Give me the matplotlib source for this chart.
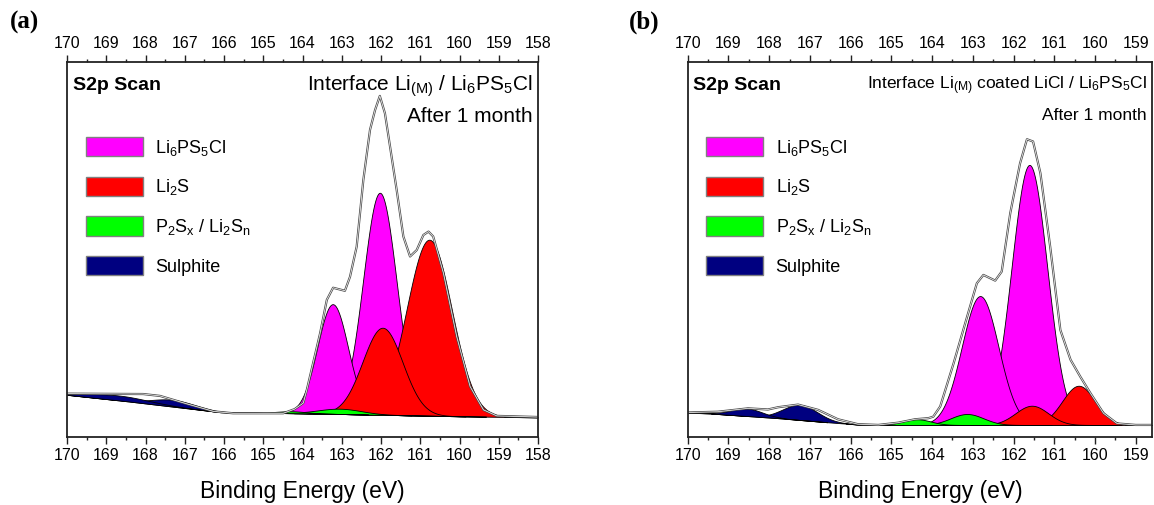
"""
S2p XPS fits of the two interfaces after 1 month, side by side.
Saves out.png
"""

import matplotlib
matplotlib.use("Agg")
import matplotlib.pyplot as plt
from matplotlib.patches import Patch
from matplotlib.ticker import MultipleLocator
import numpy as np

plt.rcParams.update({
    "font.family": ["Liberation Sans", "DejaVu Sans"],
    "mathtext.fontset": "custom",
    "mathtext.rm": "Liberation Sans",
    "mathtext.it": "Liberation Sans:italic",
    "mathtext.bf": "Liberation Sans:bold",
    "mathtext.default": "regular",
})

# ---------------- panel (a): Li(M) / Li6PS5Cl ----------------
A_ENV_E = [170.0, 168.06, 167.63, 166.95, 166.27, 165.77, 165.0, 164.49, 164.2, 163.98,
           163.89, 163.55, 163.38, 163.22, 162.92, 162.79, 162.62, 162.45, 162.28, 162.15,
           162.03, 161.90, 161.77, 161.60, 161.43, 161.26, 161.09, 160.92, 160.79, 160.67,
           160.41, 160.07, 159.73, 159.39, 159.05, 158.0]
A_ENV_I = [12.0, 11.9, 11.4, 9.3, 7.3, 6.8, 6.8, 6.8, 7.9, 9.5,
           13.0, 28.1, 36.9, 40.1, 39.3, 43.0, 51.0, 68.7, 82.0, 87.3,
           91.0, 86.4, 77.6, 66.0, 53.7, 48.4, 50.1, 54.1, 55.0, 53.7,
           44.0, 27.1, 13.9, 7.7, 6.1, 5.8]
A_BG_E = [170.0, 168.4, 166.1, 165.0, 164.0, 163.0, 162.0, 161.0, 160.0, 158.0]
A_BG_I = [11.7, 9.9, 7.1, 6.9, 6.8, 6.6, 6.4, 6.2, 6.0, 5.7]

# component fits: centre (eV), height above background, FWHM (eV)
A_LI6_CEN, A_LI6_H, A_LI6_FW = [162.03, 163.23], [58.9, 29.1], [1.0, 0.92]
A_LI2S_CEN, A_LI2S_H, A_LI2S_FW = [160.77, 161.96], [46.7, 23.1], [1.35, 1.2]
A_PSX_CEN, A_PSX_H, A_PSX_FW = [163.05, 164.3], [1.4, 0.5], [1.3, 0.9]
A_SULF_CEN, A_SULF_H, A_SULF_FW = [167.3, 168.7], [1.8, 1.3], [1.3, 1.8]

# ---------------- panel (b): Li(M) coated LiCl / Li6PS5Cl ----------------
B_ENV_E = [170.0, 169.26, 168.52, 168.03, 167.78, 167.29, 166.80, 166.31, 165.82, 165.32,
           164.83, 164.42, 164.09, 163.97, 163.80, 163.47, 163.14, 162.90, 162.74, 162.45,
           162.29, 162.08, 161.84, 161.67, 161.52, 161.34, 161.10, 160.85, 160.60, 160.36,
           160.11, 159.79, 159.46, 159.0, 158.6]
B_ENV_I = [7.0, 7.2, 8.1, 7.8, 8.4, 9.1, 7.7, 5.2, 3.9, 3.7,
           4.3, 5.2, 5.5, 5.9, 8.6, 20.1, 32.4, 41.3, 43.5, 42.0,
           44.4, 59.9, 73.1, 79.5, 78.9, 70.5, 51.0, 28.9, 21.0, 16.5,
           12.1, 6.8, 4.1, 3.7, 3.7]
B_BG_E = [170.0, 169.26, 167.78, 166.55, 165.8, 165.0, 158.6]
B_BG_I = [7.0, 6.6, 5.5, 4.4, 3.8, 3.7, 3.7]

B_LI6_CEN, B_LI6_H, B_LI6_FW = [161.61, 162.82], [69.0, 34.2], [1.03, 1.06]
B_LI2S_CEN, B_LI2S_H, B_LI2S_FW = [160.40, 161.55], [10.4, 5.1], [0.95, 0.95]
B_PSX_CEN, B_PSX_H, B_PSX_FW = [163.14, 164.37], [2.9, 1.5], [0.95, 0.8]
B_SULF_CEN, B_SULF_H, B_SULF_FW = [167.24, 168.55], [4.0, 2.0], [1.0, 0.9]

LABELS = [r"Li$_6$PS$_5$Cl", r"Li$_2$S", r"P$_2$S$_x$ / Li$_2$S$_n$", "Sulphite"]
COLORS = ["#ff00ff", "#ff0000", "#00ff00", "#000080"]


def gauss(e, cen, h, fw):
    return h * np.exp(-4 * np.log(2) * (e - cen) ** 2 / fw ** 2)


def draw_panel(ax, e_right, env_e, env_i, bg_e, bg_i, comps, title, tsize):
    grid = np.linspace(170, e_right, 900)
    bg = np.interp(grid, bg_e[::-1], bg_i[::-1])

    for (cens, hs, fws), col in zip(comps, COLORS):
        for c, h, fw in zip(cens, hs, fws):
            m = np.abs(grid - c) < 2.2 * fw
            ax.fill_between(grid[m], bg[m], bg[m] + gauss(grid[m], c, h, fw),
                            facecolor=col, edgecolor="black", linewidth=0.6)

    ax.plot(env_e, env_i, color="#4a4a4a", linewidth=1.6, solid_joinstyle="round")
    ax.plot(env_e, env_i, color="white", linewidth=0.5, solid_joinstyle="round")

    ax.set_xlim(170, e_right)
    ax.set_ylim(0.5, 100)
    ax.xaxis.set_major_locator(MultipleLocator(1))
    ax.xaxis.set_minor_locator(MultipleLocator(0.5))
    ax.tick_params(axis="x", which="both", direction="out", top=True, bottom=True,
                   labeltop=True, labelbottom=True, labelsize=11.5, pad=3, color="#222")
    ax.tick_params(axis="x", which="major", length=5, width=1.0)
    ax.tick_params(axis="x", which="minor", length=2.5, width=1.0)
    ax.tick_params(axis="y", left=False, right=False, labelleft=False)
    for sp in ax.spines.values():
        sp.set_linewidth(1.3)
        sp.set_color("#222")
    ax.set_xlabel("Binding Energy (eV)", fontsize=16.5, labelpad=12)

    ax.text(0.012, 0.936, "S2p Scan", transform=ax.transAxes, fontsize=14,
            fontweight="bold", ha="left", va="center")
    ax.text(0.988, 0.936, title, transform=ax.transAxes, fontsize=tsize,
            ha="right", va="center")
    ax.text(0.988, 0.856, "After 1 month", transform=ax.transAxes, fontsize=tsize,
            ha="right", va="center")

    handles = [Patch(facecolor=c, edgecolor="#808080", linewidth=1.0) for c in COLORS]
    ax.legend(handles, LABELS, loc="upper left", bbox_to_anchor=(0.04, 0.80),
              frameon=False, fontsize=13, handlelength=3.16, handleheight=1.27,
              handletextpad=0.68, labelspacing=1.05, borderpad=0, borderaxespad=0)


def main():
    fig = plt.figure(figsize=(11.54, 5.05), dpi=100)
    ax_a = fig.add_axes([67 / 1154, 68 / 505, 471 / 1154, 375 / 505])
    ax_b = fig.add_axes([687.7 / 1154, 68 / 505, 464.3 / 1154, 375 / 505])

    draw_panel(ax_a, 158.0, A_ENV_E, A_ENV_I, A_BG_E, A_BG_I,
               [(A_LI6_CEN, A_LI6_H, A_LI6_FW), (A_LI2S_CEN, A_LI2S_H, A_LI2S_FW),
                (A_PSX_CEN, A_PSX_H, A_PSX_FW), (A_SULF_CEN, A_SULF_H, A_SULF_FW)],
               r"Interface Li$_{(M)}$ / Li$_6$PS$_5$Cl", 15)
    draw_panel(ax_b, 158.6, B_ENV_E, B_ENV_I, B_BG_E, B_BG_I,
               [(B_LI6_CEN, B_LI6_H, B_LI6_FW), (B_LI2S_CEN, B_LI2S_H, B_LI2S_FW),
                (B_PSX_CEN, B_PSX_H, B_PSX_FW), (B_SULF_CEN, B_SULF_H, B_SULF_FW)],
               r"Interface Li$_{(M)}$ coated LiCl / Li$_6$PS$_5$Cl", 12.5)

    fig.text(10 / 1154, 1 - 22 / 505, "(a)", family="Liberation Serif",
             fontweight="bold", fontsize=18, ha="left", va="center")
    fig.text(629 / 1154, 1 - 22 / 505, "(b)", family="Liberation Serif",
             fontweight="bold", fontsize=18, ha="left", va="center")

    fig.savefig("out.png", dpi=100)
    plt.close(fig)


if __name__ == "__main__":
    main()
